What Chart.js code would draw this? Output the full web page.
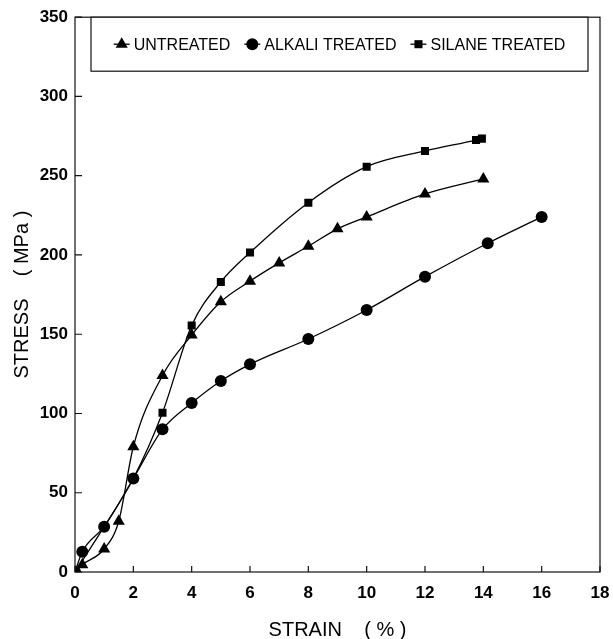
<!DOCTYPE html>
<html>
<head>
<meta charset="utf-8">
<script src="https://cdn.jsdelivr.net/npm/chart.js@4.4.1/dist/chart.umd.min.js"></script>
<style>
html, body { margin: 0; padding: 0; background: #fff; }
</style>
</head>
<body>
<canvas id="chart" width="613" height="639"></canvas>
<script>
const untreatedStrain = [0, 0.25, 1, 1.5, 2, 3, 4, 5, 6, 7, 8, 9, 10, 12, 14];
const untreatedStress = [0, 4.5, 14.5, 32, 79, 124, 149.5, 170.5, 183.5, 195, 205.5, 216.5, 224, 238.5, 248];

const alkaliStrain = [0, 0.25, 1, 2, 3, 4, 5, 6, 8, 10, 12, 14.15, 16];
const alkaliStress = [0, 12.8, 28.6, 59, 90, 106.6, 120.5, 131, 147, 165.3, 186.3, 207.4, 224];

const silaneStrain = [0, 1, 2, 3, 4, 5, 6, 8, 10, 12, 13.75, 13.95];
const silaneStress = [0, 28.6, 59, 100.5, 155.5, 183, 201.5, 233, 255.7, 265.6, 272.5, 273.4];

const seriesLabels = ["UNTREATED", "ALKALI TREATED", "SILANE TREATED"];
const xTickValues = [0, 2, 4, 6, 8, 10, 12, 14, 16, 18];
const yTickValues = [0, 50, 100, 150, 200, 250, 300, 350];

const toPoints = (xs, ys) => xs.map((x, i) => ({ x: x, y: ys[i] }));

function series(label, xs, ys, style, radius) {
    return {
        label: label,
        data: toPoints(xs, ys),
        borderColor: "#000",
        backgroundColor: "#000",
        borderWidth: 1.3,
        pointStyle: style,
        pointRadius: radius,
        pointHoverRadius: radius,
        pointBorderWidth: 0,
        cubicInterpolationMode: "monotone",
        fill: false,
    };
}

// frame round the plot plus the small inward tick marks
const framePlugin = {
    id: "frame",
    afterDraw(chart) {
        const { ctx, chartArea: a, scales } = chart;
        ctx.save();
        ctx.strokeStyle = "#111";
        ctx.lineWidth = 1.2;
        ctx.strokeRect(a.left, a.top, a.right - a.left, a.bottom - a.top);
        ctx.beginPath();
        scales.x.ticks.forEach((t, i) => {
            const px = scales.x.getPixelForTick(i);
            ctx.moveTo(px, a.bottom);
            ctx.lineTo(px, a.bottom - 6);
        });
        scales.y.ticks.forEach((t, i) => {
            const py = scales.y.getPixelForTick(i);
            ctx.moveTo(a.left, py);
            ctx.lineTo(a.left + 7, py);
        });
        ctx.stroke();
        ctx.restore();
    },
};

// boxed legend sitting inside the top of the plot
const boxLegendPlugin = {
    id: "boxLegend",
    afterDraw(chart) {
        const { ctx, chartArea: a } = chart;
        const boxLeft = a.left + 16;
        const boxRight = a.right - 12;
        const boxTop = a.top;
        const boxHeight = 54;
        ctx.save();
        ctx.fillStyle = "#fff";
        ctx.fillRect(boxLeft, boxTop, boxRight - boxLeft, boxHeight);
        ctx.strokeStyle = "#111";
        ctx.lineWidth = 1.2;
        ctx.strokeRect(boxLeft, boxTop, boxRight - boxLeft, boxHeight);

        ctx.font = "16px 'Liberation Sans', Arial, sans-serif";
        ctx.textBaseline = "middle";
        const items = chart.data.datasets.map((ds) => ({
            ds: ds,
            w: 20 + ctx.measureText(ds.label).width,
        }));
        const gap = 14;
        const total = items.reduce((s, it) => s + it.w, 0) + gap * (items.length - 1);
        let x = (boxLeft + boxRight) / 2 - total / 2;
        const y = boxTop + boxHeight / 2;
        items.forEach((it) => {
            ctx.strokeStyle = "#000";
            ctx.fillStyle = "#000";
            ctx.lineWidth = 1.3;
            ctx.beginPath();
            ctx.moveTo(x, y);
            ctx.lineTo(x + 16, y);
            ctx.stroke();
            Chart.helpers.drawPoint(ctx, {
                pointStyle: it.ds.pointStyle,
                radius: it.ds.pointRadius,
                rotation: 0,
                borderWidth: 0,
            }, x + 8, y);
            ctx.fillStyle = "#000";
            ctx.fillText(it.ds.label, x + 20, y + 1);
            x += it.w + gap;
        });
        ctx.restore();
    },
};

const ctx = document.getElementById("chart").getContext("2d");
const stressChart = new Chart(ctx, {
    type: "line",
    data: {
        datasets: [
            series(seriesLabels[0], untreatedStrain, untreatedStress, "triangle", 7),
            series(seriesLabels[1], alkaliStrain, alkaliStress, "circle", 6),
            series(seriesLabels[2], silaneStrain, silaneStress, "rect", 5.7),
        ],
    },
    options: {
        responsive: false,
        animation: false,
        devicePixelRatio: 1,
        layout: { padding: { top: 17, right: 13, bottom: 0, left: 0 } },
        plugins: {
            legend: { display: false },
            tooltip: { enabled: false },
        },
        scales: {
            x: {
                type: "linear",
                min: 0,
                max: 18,
                afterBuildTicks: (s) => { s.ticks = xTickValues.map((v) => ({ value: v })); },
                afterFit: (s) => {
                    s.height = 67;
                    s.paddingLeft = 0;
                    s.paddingRight = 0;
                },
                grid: { display: false, drawTicks: false },
                border: { display: false },
                ticks: {
                    color: "#000",
                    padding: 11,
                    maxRotation: 0,
                    font: { family: "'Liberation Sans', Arial, sans-serif", size: 17, weight: "bold" },
                },
                title: {
                    display: true,
                    text: "STRAIN    ( % )",
                    color: "#000",
                    padding: { top: 0, bottom: -3 },
                    font: { family: "'Liberation Sans', Arial, sans-serif", size: 20 },
                },
            },
            y: {
                type: "linear",
                min: 0,
                max: 350,
                afterBuildTicks: (s) => { s.ticks = yTickValues.map((v) => ({ value: v })); },
                afterFit: (s) => { s.width = 75; },
                grid: { display: false, drawTicks: false },
                border: { display: false },
                ticks: {
                    color: "#000",
                    padding: 7,
                    font: { family: "'Liberation Sans', Arial, sans-serif", size: 17, weight: "bold" },
                },
                title: {
                    display: true,
                    text: "STRESS    ( MPa )",
                    color: "#000",
                    padding: { top: 10, bottom: 0 },
                    font: { family: "'Liberation Sans', Arial, sans-serif", size: 20 },
                },
            },
        },
    },
    plugins: [framePlugin, boxLegendPlugin],
});
</script>
</body>
</html>
